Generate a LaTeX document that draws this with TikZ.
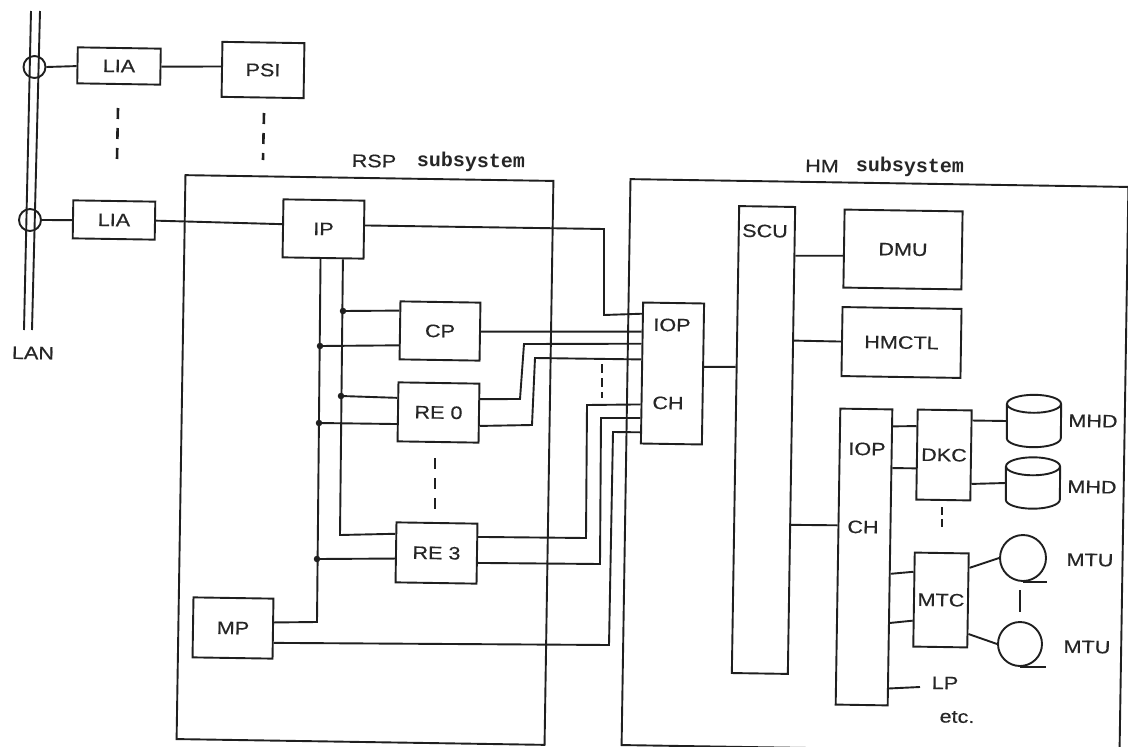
\documentclass[tikz,border=0pt]{standalone}
\usepackage{fontspec}
\setmainfont[FakeStretch=1.2,FakeBold=0.4]{Liberation Sans}
\newfontfamily\subfont{Liberation Mono Bold}
\usetikzlibrary{calc}
\tikzset{
  ln/.style={line width=1.9pt,black!88,line join=miter},
  sbox/.style 2 args={ln,draw,rectangle,rotate=-0.9,inner sep=0pt,minimum width=#1,minimum height=#2,text=black!85,font=\fontsize{18}{20}\selectfont},
  lbl/.style={rotate=-0.9,inner sep=0pt,text=black!85,font=\fontsize{18}{20}\selectfont},
  subtxt/.style={rotate=-0.9,inner sep=0pt,text=black!85,font=\fontsize{20}{22}\subfont},
  tap/.style={ln,draw,circle,inner sep=0pt,minimum size=22},
  tape/.style={ln,draw,circle,inner sep=0pt,minimum size=#1},
  hole/.style 2 args={rectangle,inner sep=0pt,minimum width=#1,minimum height=#2},
  ellip/.style={line width=2.6pt,black!88,dash pattern=on 11pt off 9pt},
  dot/.style={fill=black!88,circle,inner sep=0pt,minimum size=6.5}
}
\newcommand{\lport}[2]{($(#1.north west)!#2!(#1.south west)$)}
\newcommand{\rport}[2]{($(#1.north east)!#2!(#1.south east)$)}
\begin{document}
\begin{tikzpicture}[x=1pt,y=-1pt]
\clip (0,0) rectangle (1128,747);
\fill[white] (0,0) rectangle (1128,747);

% LAN
\coordinate (lanat) at (31,11); \coordinate (lanab) at (24,330);
\coordinate (lanbt) at (40,11); \coordinate (lanbb) at (32,330);
\draw[ln] (lanat) -- (lanab); \draw[ln] (lanbt) -- (lanbb);
\node[tap] (tap1) at (34.5,67) {};
\node[tap] (tap2) at (30,220) {};
\node[lbl] (lan) at (33,353) {LAN};

% boxes
\node[sbox={83}{36}] (lia1) at (119,66) {LIA};
\node[sbox={82}{38}] (lia2) at (114,220) {LIA};
\node[sbox={82}{55}] (psi) at (263,70) {PSI};
\node[sbox={368}{564}] (rsp) at (365,460) {};
\node[sbox={498}{566}] (hm) at (875,466) {};
\node[lbl] (rsp1) at (374,161) {RSP};
\node[subtxt] (rsp2) at (471,162) {subsystem};
\node[lbl] (hm1) at (822,166) {HM};
\node[subtxt] (hm2) at (910,167) {subsystem};
\node[sbox={81}{58}] (ip) at (323.5,229) {IP};
\node[sbox={80}{58}] (cp) at (440,331) {CP};
\node[sbox={81}{59}] (re0) at (438.5,412.5) {RE 0};
\node[sbox={81}{60}] (re3) at (436.5,553) {RE 3};
\node[sbox={80}{60}] (mp) at (233,628) {MP};
\node[sbox={61}{141}] (ioc) at (672.5,373.5) {};
\node[lbl] (ioct) at (672,325) {IOP};
\node[lbl] (iocb) at (668,403) {CH};
\node[sbox={56}{467}] (scu) at (763.5,440) {};
\node[lbl] (scut) at (765,231) {SCU};
\node[sbox={118}{78}] (dmu) at (903,249.5) {DMU};
\node[sbox={119}{69}] (hmctl) at (901.5,342.5) {HMCTL};
\node[sbox={52}{296}] (ioh) at (864,557) {};
\node[lbl] (ioht) at (867,449) {IOP};
\node[lbl] (iohb) at (863,527) {CH};
\node[sbox={54}{90}] (dkc) at (944,455) {DKC};
\node[sbox={54}{94}] (mtc) at (941,600) {MTC};

% storage
\node[hole={54}{34}] (mhd1) at (1034,421) {};
\node[hole={54}{33}] (mhd2) at (1033,483) {};
\draw[ln] (mhd1.north) ellipse [x radius=27pt,y radius=9pt];
\draw[ln] (mhd1.north west) -- (mhd1.south west) arc[start angle=180,end angle=360,x radius=27pt,y radius=9pt] -- (mhd1.north east);
\draw[ln] (mhd2.north) ellipse [x radius=27pt,y radius=9pt];
\draw[ln] (mhd2.north west) -- (mhd2.south west) arc[start angle=180,end angle=360,x radius=27pt,y radius=9pt] -- (mhd2.north east);
\node[lbl] (mhdl1) at (1093,421) {MHD};
\node[lbl] (mhdl2) at (1092,487) {MHD};
\node[tape=46] (mtu1) at (1023,558) {};
\node[tape=44] (mtu2) at (1020,644) {};
\draw[ln] (mtu1.south) -- ++(24,0);
\draw[ln] (mtu2.south) -- ++(26,0);
\node[lbl] (mtul1) at (1090,560) {MTU};
\node[lbl] (mtul2) at (1087,647) {MTU};
\coordinate (lpend) at (920,687);
\node[lbl] (lp) at (945,683) {LP};
\node[lbl] (etc) at (957,717) {etc.};

% left connectors
\draw[ln] (tap1.east) -- \lport{lia1}{.52};
\draw[ln] \rport{lia1}{.5} -- \lport{psi}{.45};
\draw[ln] (tap2.east) -- \lport{lia2}{.52};
\draw[ln] \rport{lia2}{.5} -- \lport{ip}{.43};

% internal buses
\coordinate (ipa) at ($(ip.south west)!.47!(ip.south east)$);
\coordinate (ipb) at ($(ip.south west)!.74!(ip.south east)$);
\coordinate (ja1) at (320,346);
\coordinate (ja2) at (319,423);
\coordinate (ja3) at (317,559);
\coordinate (jb1) at (343,311);
\coordinate (jb2) at (341,396);
\draw[ln] (ipa) -- (317,622) -- \rport{mp}{.4};
\draw[ln] (ipb) -- (340,535) -- \lport{re3}{.2};
\draw[ln] (jb1) -- \lport{cp}{.17};
\draw[ln] (ja1) -- \lport{cp}{.75};
\draw[ln] (jb2) -- \lport{re0}{.27};
\draw[ln] (ja2) -- \lport{re0}{.7};
\draw[ln] (ja3) -- \lport{re3}{.6};
\foreach \j in {ja1,ja2,ja3,jb1,jb2} \node[dot] at (\j) {};

% to IOP/CH
\draw[ln] ($(ip.north east)!.43!(ip.south east)$) -- (604,229) -- (604,315) -- \lport{ioc}{.085};
\draw[ln] \rport{cp}{.5} -- \lport{ioc}{.21};
\draw[ln] \rport{re0}{.27} -- (520,399) -- (524,344) -- \lport{ioc}{.295};
\draw[ln] \rport{re0}{.71} -- (532,425) -- (535,358) -- \lport{ioc}{.405};
\draw[ln] \rport{re3}{.23} -- (586,538) -- (587,405) -- \lport{ioc}{.72};
\draw[ln] \rport{re3}{.65} -- (600,564) -- (601,418) -- \lport{ioc}{.815};
\draw[ln] \rport{mp}{.73} -- (609,645) -- (613,432) -- \lport{ioc}{.915};

% right connectors
\draw[ln] \rport{ioc}{.45} -- \lport{scu}{.345};
\draw[ln] \rport{scu}{.106} -- \lport{dmu}{.59};
\draw[ln] \rport{scu}{.287} -- (hmctl.west);
\draw[ln] \rport{scu}{.68} -- \lport{ioh}{.395};
\draw[ln] \rport{ioh}{.06} -- \lport{dkc}{.19};
\draw[ln] \rport{ioh}{.2} -- \lport{dkc}{.65};
\draw[ln] \rport{dkc}{.12} -- (mhd1.west);
\draw[ln] \rport{dkc}{.81} -- (mhd2.west);
\draw[ln] \rport{ioh}{.555} -- \lport{mtc}{.21};
\draw[ln] \rport{ioh}{.72} -- \lport{mtc}{.72};
\draw[ln] \rport{mtc}{.16} -- (mtu1.west);
\draw[ln] \rport{mtc}{.85} -- (mtu2.west);
\draw[ln] \rport{ioh}{.94} -- (lpend);

% continuation marks
\draw[ellip] (118,108) -- (117,160);
\draw[ellip] (264,113) -- (263,160);
\draw[ellip] (435,458) -- (435,510);
\draw[ellip,dash pattern=on 9pt off 5pt] (602,364) -- (602,398);
\draw[ellip,dash pattern=on 8pt off 4pt] (942,507) -- (942,527);
\draw[ln,line width=2.4pt] (1020,590) -- (1020,612);
\end{tikzpicture}
\end{document}
